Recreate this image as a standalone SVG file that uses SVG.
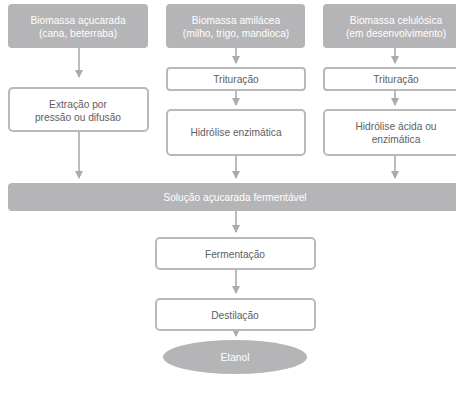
<svg xmlns="http://www.w3.org/2000/svg" width="456" height="393" viewBox="0 0 456 393">
<defs>
<style>
.g{fill:#b5b5b7;stroke:none}
.w{fill:#fff;stroke:#b9b9bb;stroke-width:2}
.tw{font-family:"Liberation Sans",Arial,sans-serif;font-size:10.2px;fill:#fff;text-anchor:middle;dominant-baseline:central}
.td{font-family:"Liberation Sans",Arial,sans-serif;font-size:10.2px;fill:#606060;text-anchor:middle;dominant-baseline:central}
.c{stroke:#ababad;stroke-width:1.6;fill:none;marker-end:url(#ah)}
</style>
<marker id="ah" markerWidth="8" markerHeight="8" refX="7" refY="4" orient="auto" markerUnits="userSpaceOnUse">
<path d="M0,0 L8,4 L0,8 Z" fill="#ababad"/>
</marker>
</defs>
<rect width="456" height="393" fill="#fff"/>
<g id="connectors">
<line class="c" x1="79" y1="48" x2="79" y2="77"/>
<line class="c" x1="79" y1="131" x2="79" y2="178"/>
<line class="c" x1="236" y1="48" x2="236" y2="63"/>
<line class="c" x1="236" y1="90" x2="236" y2="105"/>
<line class="c" x1="236" y1="155" x2="236" y2="178"/>
<line class="c" x1="395" y1="48" x2="395" y2="63"/>
<line class="c" x1="395" y1="90" x2="395" y2="105"/>
<line class="c" x1="395" y1="155" x2="395" y2="178"/>
<line class="c" x1="236" y1="211" x2="236" y2="232"/>
<line class="c" x1="236" y1="269" x2="236" y2="293"/>
<line class="c" x1="236" y1="330" x2="236" y2="336"/>
</g>
<g id="n-acucarada">
<rect class="g" x="8" y="4" width="140" height="44" rx="4"/>
<text class="tw" x="78" y="20">Biomassa açucarada</text>
<text class="tw" x="78" y="33">(cana, beterraba)</text>
</g>
<g id="n-amilacea">
<rect class="g" x="166" y="4" width="139" height="44" rx="4"/>
<text class="tw" x="236" y="20">Biomassa amilácea</text>
<text class="tw" x="236" y="33">(milho, trigo, mandioca)</text>
</g>
<g id="n-celulosica">
<rect class="g" x="323" y="4" width="145" height="44" rx="4"/>
<text class="tw" x="396" y="20">Biomassa celulósica</text>
<text class="tw" x="396" y="33">(em desenvolvimento)</text>
</g>
<g id="n-extracao">
<rect class="w" x="9" y="88" width="139" height="43" rx="4"/>
<text class="td" x="78" y="104">Extração por</text>
<text class="td" x="78" y="117">pressão ou difusão</text>
</g>
<g id="n-trituracao1">
<rect class="w" x="167" y="68" width="138" height="22" rx="3"/>
<text class="td" x="236" y="79">Trituração</text>
</g>
<g id="n-hidrolise1">
<rect class="w" x="167" y="110" width="138" height="45" rx="4"/>
<text class="td" x="236" y="132">Hidrólise enzimática</text>
</g>
<g id="n-trituracao2">
<rect class="w" x="324" y="68" width="144" height="22" rx="3"/>
<text class="td" x="396" y="79">Trituração</text>
</g>
<g id="n-hidrolise2">
<rect class="w" x="324" y="110" width="144" height="45" rx="4"/>
<text class="td" x="396" y="126">Hidrólise ácida ou</text>
<text class="td" x="396" y="139">enzimática</text>
</g>
<g id="n-solucao">
<rect class="g" x="8" y="183" width="460" height="28" rx="4"/>
<text class="tw" x="235" y="197">Solução açucarada fermentável</text>
</g>
<g id="n-fermentacao">
<rect class="w" x="156" y="238" width="159" height="31" rx="4"/>
<text class="td" x="235" y="254">Fermentação</text>
</g>
<g id="n-destilacao">
<rect class="w" x="156" y="299" width="159" height="31" rx="4"/>
<text class="td" x="235" y="315">Destilação</text>
</g>
<g id="n-etanol">
<ellipse class="g" cx="235" cy="357" rx="72" ry="17"/>
<text class="tw" x="235" y="357">Etanol</text>
</g>
</svg>
